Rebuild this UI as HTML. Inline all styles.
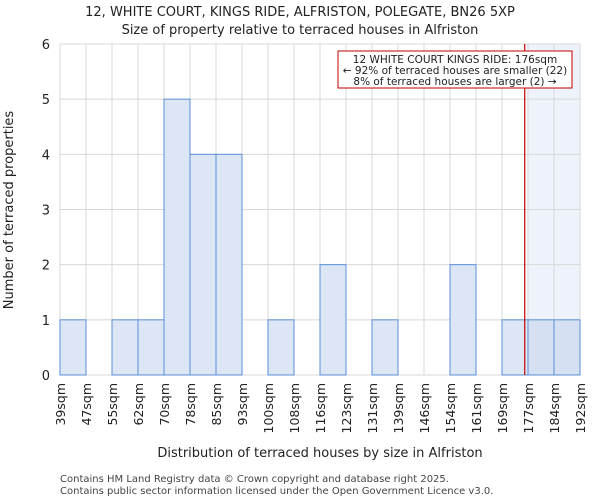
<!DOCTYPE html>
<html><head><meta charset="utf-8"><style>
body{margin:0;background:#fff;font-family:"DejaVu Sans","Liberation Sans",sans-serif;}
</style></head><body>
<svg width="600" height="500" xmlns="http://www.w3.org/2000/svg" font-family="DejaVu Sans, Liberation Sans, sans-serif">
<g id="g"></g>
</svg>
<script>
const labels=["39sqm","47sqm","55sqm","62sqm","70sqm","78sqm","85sqm","93sqm","100sqm","108sqm","116sqm","123sqm","131sqm","139sqm","146sqm","154sqm","161sqm","169sqm","177sqm","184sqm","192sqm"];
const counts=[1,0,1,1,5,4,4,0,1,0,2,0,1,0,0,2,0,1,1,1];
const yTicks=[0,1,2,3,4,5,6];
const propertySize=176;
const binEdges=[39,47,55,62,70,78,85,93,100,108,116,123,131,139,146,154,161,169,177,184,192];
const L=60,R=580,T=44,B=375,yMax=6;
const bw=(R-L)/counts.length;
const ys=v=>B-(v/yMax)*(B-T);
function xv(v){for(let i=0;i<binEdges.length-1;i++){if(v<=binEdges[i+1]){return L+bw*(i+(v-binEdges[i])/(binEdges[i+1]-binEdges[i]));}}return R;}
const g=document.getElementById('g');const NS="http://www.w3.org/2000/svg";
function mk(t,a,txt){const e=document.createElementNS(NS,t);for(const k in a)e.setAttribute(k,a[k]);if(txt!==undefined)e.textContent=txt;g.appendChild(e);return e;}
const px=xv(propertySize);
let e=mk('rect',{x:px+2,y:T,width:R-px-2,height:B-T,fill:'#eef2fb'});


for(let i=0;i<=counts.length;i++){e=mk('line',{x1:L+i*bw,x2:L+i*bw,y1:T,y2:B,stroke:'#d8d8d8'});

}
yTicks.forEach(t=>{e=mk('line',{x1:L,x2:R,y1:ys(t),y2:ys(t),stroke:'#d8d8d8'});


e=mk('text',{x:L-10,y:ys(t)+5,'text-anchor':'end','font-size':13,fill:'#222'},t);

});
counts.forEach((c,i)=>{if(c>0){e=mk('rect',{x:L+i*bw,y:ys(c),width:bw,height:B-ys(c),fill:(L+i*bw>=px)?'#d5e0f3':'#dce6f5',stroke:'#5b8fd6','stroke-width':1});

}});
labels.forEach((l,i)=>{const x=L+i*bw;e=mk('text',{x:x+5,y:B+8,'text-anchor':'end','font-size':12.5,fill:'#222',transform:`rotate(-90 ${x+5} ${B+8})`},l);

});
e=mk('line',{x1:px,x2:px,y1:T,y2:B,stroke:'#c00000','stroke-width':1.2});


e=mk('rect',{x:338,y:51,width:234,height:37,fill:'#fff',stroke:'#c00000','stroke-width':1});


[["12 WHITE COURT KINGS RIDE: 176sqm",63],["← 92% of terraced houses are smaller (22)",74],["8% of terraced houses are larger (2) →",85]].forEach(a=>{e=mk('text',{x:455,y:a[1],'text-anchor':'middle','font-size':10.5,fill:'#222'},a[0]);

});
e=mk('text',{x:300,y:16,'text-anchor':'middle','font-size':13,fill:'#222'},"12, WHITE COURT, KINGS RIDE, ALFRISTON, POLEGATE, BN26 5XP");


e=mk('text',{x:300,y:34,'text-anchor':'middle','font-size':13,fill:'#222'},"Size of property relative to terraced houses in Alfriston");


e=mk('text',{x:320,y:457,'text-anchor':'middle','font-size':13,fill:'#222'},"Distribution of terraced houses by size in Alfriston");


e=mk('text',{x:13,y:210,'text-anchor':'middle','font-size':13,fill:'#222',transform:'rotate(-90 13 210)'},"Number of terraced properties");


e=mk('text',{x:60,y:482,'font-size':10,fill:'#444'},"Contains HM Land Registry data © Crown copyright and database right 2025.");


e=mk('text',{x:60,y:494,'font-size':10,fill:'#444'},"Contains public sector information licensed under the Open Government Licence v3.0.");


</script>
</body></html>
